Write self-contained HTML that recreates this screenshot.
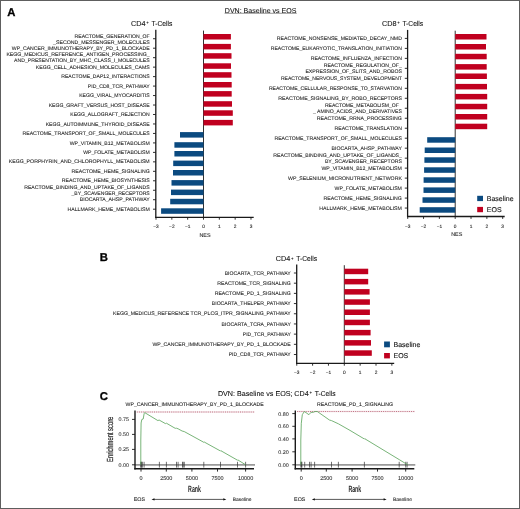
<!DOCTYPE html>
<html><head><meta charset="utf-8"><style>
html,body{margin:0;padding:0;background:#fff;}
body{width:520px;height:509px;overflow:hidden;}
svg{display:block;font-family:"Liberation Sans", sans-serif;will-change:transform;text-rendering:geometricPrecision;}
</style></head><body>
<svg width="520" height="509" viewBox="0 0 520 509">
<rect x="0" y="0" width="520" height="509" fill="#fff"/>
<text x="7.30" y="15.80" font-size="11.3" text-anchor="start" fill="#000" font-weight="bold" stroke="#000" stroke-width="0.3" >A</text>
<text x="224.80" y="12.70" font-size="7.05" text-anchor="start" fill="#111" font-weight="normal" stroke="#111" stroke-width="0.08" >DVN: Baseline vs EOS</text>
<line x1="224.60" y1="13.30" x2="296.80" y2="13.30" stroke="#444" stroke-width="0.55" />
<text x="131.10" y="26.20" font-size="7.25" fill="#111" stroke="#111" stroke-width="0.08">CD4</text>
<text x="147.60" y="24.35" font-size="4.4" font-weight="bold" text-anchor="middle" fill="#111">+</text>
<text x="151.50" y="26.20" font-size="7.25" fill="#111" stroke="#111" stroke-width="0.08" textLength="20.8" lengthAdjust="spacingAndGlyphs">T-Cells</text>
<text x="382.00" y="26.20" font-size="7.25" fill="#111" stroke="#111" stroke-width="0.08">CD8</text>
<text x="398.50" y="24.35" font-size="4.4" font-weight="bold" text-anchor="middle" fill="#111">+</text>
<text x="402.40" y="26.20" font-size="7.25" fill="#111" stroke="#111" stroke-width="0.08" textLength="20.8" lengthAdjust="spacingAndGlyphs">T-Cells</text>
<line x1="155.80" y1="29.80" x2="155.80" y2="217.90" stroke="#1a1a1a" stroke-width="1.3" />
<line x1="155.20" y1="217.30" x2="253.70" y2="217.30" stroke="#1a1a1a" stroke-width="1.3" />
<line x1="203.50" y1="30.60" x2="203.50" y2="217.30" stroke="#1a1a1a" stroke-width="0.9" />
<line x1="153.00" y1="38.73" x2="155.80" y2="38.73" stroke="#1a1a1a" stroke-width="0.9" />
<line x1="153.00" y1="48.20" x2="155.80" y2="48.20" stroke="#1a1a1a" stroke-width="0.9" />
<line x1="153.00" y1="57.67" x2="155.80" y2="57.67" stroke="#1a1a1a" stroke-width="0.9" />
<line x1="153.00" y1="67.14" x2="155.80" y2="67.14" stroke="#1a1a1a" stroke-width="0.9" />
<line x1="153.00" y1="76.61" x2="155.80" y2="76.61" stroke="#1a1a1a" stroke-width="0.9" />
<line x1="153.00" y1="86.08" x2="155.80" y2="86.08" stroke="#1a1a1a" stroke-width="0.9" />
<line x1="153.00" y1="95.55" x2="155.80" y2="95.55" stroke="#1a1a1a" stroke-width="0.9" />
<line x1="153.00" y1="105.02" x2="155.80" y2="105.02" stroke="#1a1a1a" stroke-width="0.9" />
<line x1="153.00" y1="114.49" x2="155.80" y2="114.49" stroke="#1a1a1a" stroke-width="0.9" />
<line x1="153.00" y1="123.96" x2="155.80" y2="123.96" stroke="#1a1a1a" stroke-width="0.9" />
<line x1="153.00" y1="133.44" x2="155.80" y2="133.44" stroke="#1a1a1a" stroke-width="0.9" />
<line x1="153.00" y1="142.91" x2="155.80" y2="142.91" stroke="#1a1a1a" stroke-width="0.9" />
<line x1="153.00" y1="152.38" x2="155.80" y2="152.38" stroke="#1a1a1a" stroke-width="0.9" />
<line x1="153.00" y1="161.85" x2="155.80" y2="161.85" stroke="#1a1a1a" stroke-width="0.9" />
<line x1="153.00" y1="171.32" x2="155.80" y2="171.32" stroke="#1a1a1a" stroke-width="0.9" />
<line x1="153.00" y1="180.79" x2="155.80" y2="180.79" stroke="#1a1a1a" stroke-width="0.9" />
<line x1="153.00" y1="190.26" x2="155.80" y2="190.26" stroke="#1a1a1a" stroke-width="0.9" />
<line x1="153.00" y1="199.73" x2="155.80" y2="199.73" stroke="#1a1a1a" stroke-width="0.9" />
<line x1="153.00" y1="209.20" x2="155.80" y2="209.20" stroke="#1a1a1a" stroke-width="0.9" />
<line x1="156.01" y1="217.30" x2="156.01" y2="219.70" stroke="#1a1a1a" stroke-width="0.9" />
<text x="156.01" y="228.10" font-size="4.8" text-anchor="middle" fill="#1e1e1e" font-weight="normal" stroke="#1e1e1e" stroke-width="0.08" >−3</text>
<line x1="171.84" y1="217.30" x2="171.84" y2="219.70" stroke="#1a1a1a" stroke-width="0.9" />
<text x="171.84" y="228.10" font-size="4.8" text-anchor="middle" fill="#1e1e1e" font-weight="normal" stroke="#1e1e1e" stroke-width="0.08" >−2</text>
<line x1="187.67" y1="217.30" x2="187.67" y2="219.70" stroke="#1a1a1a" stroke-width="0.9" />
<text x="187.67" y="228.10" font-size="4.8" text-anchor="middle" fill="#1e1e1e" font-weight="normal" stroke="#1e1e1e" stroke-width="0.08" >−1</text>
<line x1="203.50" y1="217.30" x2="203.50" y2="219.70" stroke="#1a1a1a" stroke-width="0.9" />
<text x="203.50" y="228.10" font-size="4.8" text-anchor="middle" fill="#1e1e1e" font-weight="normal" stroke="#1e1e1e" stroke-width="0.08" >0</text>
<line x1="219.33" y1="217.30" x2="219.33" y2="219.70" stroke="#1a1a1a" stroke-width="0.9" />
<text x="219.33" y="228.10" font-size="4.8" text-anchor="middle" fill="#1e1e1e" font-weight="normal" stroke="#1e1e1e" stroke-width="0.08" >1</text>
<line x1="235.16" y1="217.30" x2="235.16" y2="219.70" stroke="#1a1a1a" stroke-width="0.9" />
<text x="235.16" y="228.10" font-size="4.8" text-anchor="middle" fill="#1e1e1e" font-weight="normal" stroke="#1e1e1e" stroke-width="0.08" >2</text>
<line x1="250.99" y1="217.30" x2="250.99" y2="219.70" stroke="#1a1a1a" stroke-width="0.9" />
<text x="250.99" y="228.10" font-size="4.8" text-anchor="middle" fill="#1e1e1e" font-weight="normal" stroke="#1e1e1e" stroke-width="0.08" >3</text>
<text x="205.00" y="236.80" font-size="5.4" text-anchor="middle" fill="#1e1e1e" font-weight="normal" stroke="#1e1e1e" stroke-width="0.08" >NES</text>
<text x="149.70" y="37.53" font-size="5.17" text-anchor="end" fill="#1e1e1e" font-weight="normal" stroke="#1e1e1e" stroke-width="0.08" textLength="75.10" lengthAdjust="spacingAndGlyphs">REACTOME_GENERATION_OF</text>
<text x="149.70" y="43.53" font-size="5.17" text-anchor="end" fill="#1e1e1e" font-weight="normal" stroke="#1e1e1e" stroke-width="0.08" textLength="96.70" lengthAdjust="spacingAndGlyphs">_SECOND_MESSENGER_MOLECULES</text>
<text x="149.70" y="49.80" font-size="5.17" text-anchor="end" fill="#1e1e1e" font-weight="normal" stroke="#1e1e1e" stroke-width="0.08" textLength="137.90" lengthAdjust="spacingAndGlyphs">WP_CANCER_IMMUNOTHERAPY_BY_PD_1_BLOCKADE</text>
<text x="149.70" y="56.47" font-size="5.17" text-anchor="end" fill="#1e1e1e" font-weight="normal" stroke="#1e1e1e" stroke-width="0.08" textLength="143.30" lengthAdjust="spacingAndGlyphs">KEGG_MEDICUS_REFERENCE_ANTIGEN_PROCESSING_</text>
<text x="149.70" y="62.47" font-size="5.17" text-anchor="end" fill="#1e1e1e" font-weight="normal" stroke="#1e1e1e" stroke-width="0.08" textLength="135.60" lengthAdjust="spacingAndGlyphs">AND_PRESENTATION_BY_MHC_CLASS_I_MOLECULES</text>
<text x="149.70" y="68.74" font-size="5.17" text-anchor="end" fill="#1e1e1e" font-weight="normal" stroke="#1e1e1e" stroke-width="0.08" textLength="114.00" lengthAdjust="spacingAndGlyphs">KEGG_CELL_ADHESION_MOLECULES_CAMS</text>
<text x="149.70" y="78.21" font-size="5.17" text-anchor="end" fill="#1e1e1e" font-weight="normal" stroke="#1e1e1e" stroke-width="0.08" textLength="88.40" lengthAdjust="spacingAndGlyphs">REACTOME_DAP12_INTERACTIONS</text>
<text x="149.70" y="87.68" font-size="5.17" text-anchor="end" fill="#1e1e1e" font-weight="normal" stroke="#1e1e1e" stroke-width="0.08" textLength="61.90" lengthAdjust="spacingAndGlyphs">PID_CD8_TCR_PATHWAY</text>
<text x="149.70" y="97.15" font-size="5.17" text-anchor="end" fill="#1e1e1e" font-weight="normal" stroke="#1e1e1e" stroke-width="0.08" textLength="70.50" lengthAdjust="spacingAndGlyphs">KEGG_VIRAL_MYOCARDITIS</text>
<text x="149.70" y="106.62" font-size="5.17" text-anchor="end" fill="#1e1e1e" font-weight="normal" stroke="#1e1e1e" stroke-width="0.08" textLength="101.00" lengthAdjust="spacingAndGlyphs">KEGG_GRAFT_VERSUS_HOST_DISEASE</text>
<text x="149.70" y="116.09" font-size="5.17" text-anchor="end" fill="#1e1e1e" font-weight="normal" stroke="#1e1e1e" stroke-width="0.08" textLength="79.40" lengthAdjust="spacingAndGlyphs">KEGG_ALLOGRAFT_REJECTION</text>
<text x="149.70" y="125.56" font-size="5.17" text-anchor="end" fill="#1e1e1e" font-weight="normal" stroke="#1e1e1e" stroke-width="0.08" textLength="104.00" lengthAdjust="spacingAndGlyphs">KEGG_AUTOIMMUNE_THYROID_DISEASE</text>
<text x="149.70" y="135.03" font-size="5.17" text-anchor="end" fill="#1e1e1e" font-weight="normal" stroke="#1e1e1e" stroke-width="0.08" textLength="127.10" lengthAdjust="spacingAndGlyphs">REACTOME_TRANSPORT_OF_SMALL_MOLECULES</text>
<text x="149.70" y="144.51" font-size="5.17" text-anchor="end" fill="#1e1e1e" font-weight="normal" stroke="#1e1e1e" stroke-width="0.08" textLength="80.00" lengthAdjust="spacingAndGlyphs">WP_VITAMIN_B12_METABOLISM</text>
<text x="149.70" y="153.98" font-size="5.17" text-anchor="end" fill="#1e1e1e" font-weight="normal" stroke="#1e1e1e" stroke-width="0.08" textLength="66.50" lengthAdjust="spacingAndGlyphs">WP_FOLATE_METABOLISM</text>
<text x="149.70" y="163.45" font-size="5.17" text-anchor="end" fill="#1e1e1e" font-weight="normal" stroke="#1e1e1e" stroke-width="0.08" textLength="141.00" lengthAdjust="spacingAndGlyphs">KEGG_PORPHYRIN_AND_CHLOROPHYLL_METABOLISM</text>
<text x="149.70" y="172.92" font-size="5.17" text-anchor="end" fill="#1e1e1e" font-weight="normal" stroke="#1e1e1e" stroke-width="0.08" textLength="78.10" lengthAdjust="spacingAndGlyphs">REACTOME_HEME_SIGNALING</text>
<text x="149.70" y="182.39" font-size="5.17" text-anchor="end" fill="#1e1e1e" font-weight="normal" stroke="#1e1e1e" stroke-width="0.08" textLength="87.90" lengthAdjust="spacingAndGlyphs">REACTOME_HEME_BIOSYNTHESIS</text>
<text x="149.70" y="189.06" font-size="5.17" text-anchor="end" fill="#1e1e1e" font-weight="normal" stroke="#1e1e1e" stroke-width="0.08" textLength="125.50" lengthAdjust="spacingAndGlyphs">REACTOME_BINDING_AND_UPTAKE_OF_LIGANDS</text>
<text x="149.70" y="195.06" font-size="5.17" text-anchor="end" fill="#1e1e1e" font-weight="normal" stroke="#1e1e1e" stroke-width="0.08" textLength="78.20" lengthAdjust="spacingAndGlyphs">_BY_SCAVENGER_RECEPTORS</text>
<text x="149.70" y="201.33" font-size="5.17" text-anchor="end" fill="#1e1e1e" font-weight="normal" stroke="#1e1e1e" stroke-width="0.08" textLength="69.90" lengthAdjust="spacingAndGlyphs">BIOCARTA_AHSP_PATHWAY</text>
<text x="149.70" y="210.80" font-size="5.17" text-anchor="end" fill="#1e1e1e" font-weight="normal" stroke="#1e1e1e" stroke-width="0.08" textLength="82.20" lengthAdjust="spacingAndGlyphs">HALLMARK_HEME_METABOLISM</text>
<rect x="203.50" y="34.00" width="27.40" height="5.50" fill="#c0001f"/>
<rect x="203.50" y="43.90" width="27.40" height="5.50" fill="#c0001f"/>
<rect x="203.50" y="53.20" width="28.00" height="5.50" fill="#c0001f"/>
<rect x="203.50" y="63.30" width="27.50" height="5.50" fill="#c0001f"/>
<rect x="203.50" y="72.20" width="28.00" height="5.50" fill="#c0001f"/>
<rect x="203.50" y="82.00" width="28.20" height="5.50" fill="#c0001f"/>
<rect x="203.50" y="91.10" width="28.20" height="5.50" fill="#c0001f"/>
<rect x="203.50" y="101.20" width="28.50" height="5.50" fill="#c0001f"/>
<rect x="203.50" y="110.30" width="29.30" height="5.50" fill="#c0001f"/>
<rect x="203.50" y="119.90" width="29.30" height="5.50" fill="#c0001f"/>
<rect x="180.00" y="132.10" width="23.50" height="5.50" fill="#0b4a80"/>
<rect x="174.40" y="142.20" width="29.10" height="5.50" fill="#0b4a80"/>
<rect x="174.40" y="151.00" width="29.10" height="5.50" fill="#0b4a80"/>
<rect x="173.20" y="160.60" width="30.30" height="5.50" fill="#0b4a80"/>
<rect x="173.00" y="170.00" width="30.50" height="5.50" fill="#0b4a80"/>
<rect x="171.50" y="180.10" width="32.00" height="5.50" fill="#0b4a80"/>
<rect x="171.00" y="189.60" width="32.50" height="5.50" fill="#0b4a80"/>
<rect x="170.20" y="198.80" width="33.30" height="5.50" fill="#0b4a80"/>
<rect x="161.10" y="208.30" width="42.40" height="5.50" fill="#0b4a80"/>
<line x1="407.60" y1="29.90" x2="407.60" y2="217.10" stroke="#1a1a1a" stroke-width="1.3" />
<line x1="407.00" y1="216.50" x2="504.70" y2="216.50" stroke="#1a1a1a" stroke-width="1.3" />
<line x1="455.20" y1="30.70" x2="455.20" y2="216.50" stroke="#1a1a1a" stroke-width="0.9" />
<line x1="404.80" y1="38.40" x2="407.60" y2="38.40" stroke="#1a1a1a" stroke-width="0.9" />
<line x1="404.80" y1="48.38" x2="407.60" y2="48.38" stroke="#1a1a1a" stroke-width="0.9" />
<line x1="404.80" y1="58.36" x2="407.60" y2="58.36" stroke="#1a1a1a" stroke-width="0.9" />
<line x1="404.80" y1="68.34" x2="407.60" y2="68.34" stroke="#1a1a1a" stroke-width="0.9" />
<line x1="404.80" y1="78.32" x2="407.60" y2="78.32" stroke="#1a1a1a" stroke-width="0.9" />
<line x1="404.80" y1="88.30" x2="407.60" y2="88.30" stroke="#1a1a1a" stroke-width="0.9" />
<line x1="404.80" y1="98.28" x2="407.60" y2="98.28" stroke="#1a1a1a" stroke-width="0.9" />
<line x1="404.80" y1="108.26" x2="407.60" y2="108.26" stroke="#1a1a1a" stroke-width="0.9" />
<line x1="404.80" y1="118.24" x2="407.60" y2="118.24" stroke="#1a1a1a" stroke-width="0.9" />
<line x1="404.80" y1="128.22" x2="407.60" y2="128.22" stroke="#1a1a1a" stroke-width="0.9" />
<line x1="404.80" y1="138.20" x2="407.60" y2="138.20" stroke="#1a1a1a" stroke-width="0.9" />
<line x1="404.80" y1="148.18" x2="407.60" y2="148.18" stroke="#1a1a1a" stroke-width="0.9" />
<line x1="404.80" y1="158.16" x2="407.60" y2="158.16" stroke="#1a1a1a" stroke-width="0.9" />
<line x1="404.80" y1="168.14" x2="407.60" y2="168.14" stroke="#1a1a1a" stroke-width="0.9" />
<line x1="404.80" y1="178.12" x2="407.60" y2="178.12" stroke="#1a1a1a" stroke-width="0.9" />
<line x1="404.80" y1="188.10" x2="407.60" y2="188.10" stroke="#1a1a1a" stroke-width="0.9" />
<line x1="404.80" y1="198.08" x2="407.60" y2="198.08" stroke="#1a1a1a" stroke-width="0.9" />
<line x1="404.80" y1="208.06" x2="407.60" y2="208.06" stroke="#1a1a1a" stroke-width="0.9" />
<line x1="407.71" y1="216.50" x2="407.71" y2="218.90" stroke="#1a1a1a" stroke-width="0.9" />
<text x="407.71" y="227.70" font-size="4.8" text-anchor="middle" fill="#1e1e1e" font-weight="normal" stroke="#1e1e1e" stroke-width="0.08" >−3</text>
<line x1="423.54" y1="216.50" x2="423.54" y2="218.90" stroke="#1a1a1a" stroke-width="0.9" />
<text x="423.54" y="227.70" font-size="4.8" text-anchor="middle" fill="#1e1e1e" font-weight="normal" stroke="#1e1e1e" stroke-width="0.08" >−2</text>
<line x1="439.37" y1="216.50" x2="439.37" y2="218.90" stroke="#1a1a1a" stroke-width="0.9" />
<text x="439.37" y="227.70" font-size="4.8" text-anchor="middle" fill="#1e1e1e" font-weight="normal" stroke="#1e1e1e" stroke-width="0.08" >−1</text>
<line x1="455.20" y1="216.50" x2="455.20" y2="218.90" stroke="#1a1a1a" stroke-width="0.9" />
<text x="455.20" y="227.70" font-size="4.8" text-anchor="middle" fill="#1e1e1e" font-weight="normal" stroke="#1e1e1e" stroke-width="0.08" >0</text>
<line x1="471.03" y1="216.50" x2="471.03" y2="218.90" stroke="#1a1a1a" stroke-width="0.9" />
<text x="471.03" y="227.70" font-size="4.8" text-anchor="middle" fill="#1e1e1e" font-weight="normal" stroke="#1e1e1e" stroke-width="0.08" >1</text>
<line x1="486.86" y1="216.50" x2="486.86" y2="218.90" stroke="#1a1a1a" stroke-width="0.9" />
<text x="486.86" y="227.70" font-size="4.8" text-anchor="middle" fill="#1e1e1e" font-weight="normal" stroke="#1e1e1e" stroke-width="0.08" >2</text>
<line x1="502.69" y1="216.50" x2="502.69" y2="218.90" stroke="#1a1a1a" stroke-width="0.9" />
<text x="502.69" y="227.70" font-size="4.8" text-anchor="middle" fill="#1e1e1e" font-weight="normal" stroke="#1e1e1e" stroke-width="0.08" >3</text>
<text x="456.70" y="235.80" font-size="5.4" text-anchor="middle" fill="#1e1e1e" font-weight="normal" stroke="#1e1e1e" stroke-width="0.08" >NES</text>
<text x="401.90" y="40.00" font-size="5.17" text-anchor="end" fill="#1e1e1e" font-weight="normal" stroke="#1e1e1e" stroke-width="0.08" textLength="125.10" lengthAdjust="spacingAndGlyphs">REACTOME_NONSENSE_MEDIATED_DECAY_NMD</text>
<text x="401.90" y="49.98" font-size="5.17" text-anchor="end" fill="#1e1e1e" font-weight="normal" stroke="#1e1e1e" stroke-width="0.08" textLength="131.10" lengthAdjust="spacingAndGlyphs">REACTOME_EUKARYOTIC_TRANSLATION_INITIATION</text>
<text x="401.90" y="59.96" font-size="5.17" text-anchor="end" fill="#1e1e1e" font-weight="normal" stroke="#1e1e1e" stroke-width="0.08" textLength="91.20" lengthAdjust="spacingAndGlyphs">REACTOME_INFLUENZA_INFECTION</text>
<text x="401.90" y="67.14" font-size="5.17" text-anchor="end" fill="#1e1e1e" font-weight="normal" stroke="#1e1e1e" stroke-width="0.08" textLength="78.20" lengthAdjust="spacingAndGlyphs">REACTOME_REGULATION_OF_</text>
<text x="401.90" y="73.14" font-size="5.17" text-anchor="end" fill="#1e1e1e" font-weight="normal" stroke="#1e1e1e" stroke-width="0.08" textLength="96.50" lengthAdjust="spacingAndGlyphs">EXPRESSION_OF_SLITS_AND_ROBOS</text>
<text x="401.90" y="79.92" font-size="5.17" text-anchor="end" fill="#1e1e1e" font-weight="normal" stroke="#1e1e1e" stroke-width="0.08" textLength="121.00" lengthAdjust="spacingAndGlyphs">REACTOME_NERVOUS_SYSTEM_DEVELOPMENT</text>
<text x="401.90" y="89.90" font-size="5.17" text-anchor="end" fill="#1e1e1e" font-weight="normal" stroke="#1e1e1e" stroke-width="0.08" textLength="133.00" lengthAdjust="spacingAndGlyphs">REACTOME_CELLULAR_RESPONSE_TO_STARVATION</text>
<text x="401.90" y="99.88" font-size="5.17" text-anchor="end" fill="#1e1e1e" font-weight="normal" stroke="#1e1e1e" stroke-width="0.08" textLength="123.60" lengthAdjust="spacingAndGlyphs">REACTOME_SIGNALING_BY_ROBO_RECEPTORS</text>
<text x="398.90" y="107.06" font-size="5.17" text-anchor="end" fill="#1e1e1e" font-weight="normal" stroke="#1e1e1e" stroke-width="0.08" textLength="74.00" lengthAdjust="spacingAndGlyphs">REACTOME_METABOLISM_OF</text>
<text x="401.90" y="113.06" font-size="5.17" text-anchor="end" fill="#1e1e1e" font-weight="normal" stroke="#1e1e1e" stroke-width="0.08" textLength="88.90" lengthAdjust="spacingAndGlyphs">_ AMINO_ACIDS_AND_DERIVATIVES</text>
<text x="401.90" y="119.84" font-size="5.17" text-anchor="end" fill="#1e1e1e" font-weight="normal" stroke="#1e1e1e" stroke-width="0.08" textLength="85.10" lengthAdjust="spacingAndGlyphs">REACTOME_RRNA_PROCESSING</text>
<text x="401.90" y="129.82" font-size="5.17" text-anchor="end" fill="#1e1e1e" font-weight="normal" stroke="#1e1e1e" stroke-width="0.08" textLength="67.40" lengthAdjust="spacingAndGlyphs">REACTOME_TRANSLATION</text>
<text x="401.90" y="139.80" font-size="5.17" text-anchor="end" fill="#1e1e1e" font-weight="normal" stroke="#1e1e1e" stroke-width="0.08" textLength="127.40" lengthAdjust="spacingAndGlyphs">REACTOME_TRANSPORT_OF_SMALL_MOLECULES</text>
<text x="401.90" y="149.78" font-size="5.17" text-anchor="end" fill="#1e1e1e" font-weight="normal" stroke="#1e1e1e" stroke-width="0.08" textLength="70.30" lengthAdjust="spacingAndGlyphs">BIOCARTA_AHSP_PATHWAY</text>
<text x="401.90" y="156.96" font-size="5.17" text-anchor="end" fill="#1e1e1e" font-weight="normal" stroke="#1e1e1e" stroke-width="0.08" textLength="128.60" lengthAdjust="spacingAndGlyphs">REACTOME_BINDING_AND_UPTAKE_OF_LIGANDS_</text>
<text x="401.90" y="162.96" font-size="5.17" text-anchor="end" fill="#1e1e1e" font-weight="normal" stroke="#1e1e1e" stroke-width="0.08" textLength="77.00" lengthAdjust="spacingAndGlyphs">BY_SCAVENGER_RECEPTORS</text>
<text x="401.90" y="169.74" font-size="5.17" text-anchor="end" fill="#1e1e1e" font-weight="normal" stroke="#1e1e1e" stroke-width="0.08" textLength="80.50" lengthAdjust="spacingAndGlyphs">WP_VITAMIN_B12_METABOLISM</text>
<text x="401.90" y="179.72" font-size="5.17" text-anchor="end" fill="#1e1e1e" font-weight="normal" stroke="#1e1e1e" stroke-width="0.08" textLength="113.90" lengthAdjust="spacingAndGlyphs">WP_SELENIUM_MICRONUTRIENT_NETWORK</text>
<text x="401.90" y="189.70" font-size="5.17" text-anchor="end" fill="#1e1e1e" font-weight="normal" stroke="#1e1e1e" stroke-width="0.08" textLength="67.40" lengthAdjust="spacingAndGlyphs">WP_FOLATE_METABOLISM</text>
<text x="401.90" y="199.68" font-size="5.17" text-anchor="end" fill="#1e1e1e" font-weight="normal" stroke="#1e1e1e" stroke-width="0.08" textLength="78.40" lengthAdjust="spacingAndGlyphs">REACTOME_HEME_SIGNALING</text>
<text x="401.90" y="209.66" font-size="5.17" text-anchor="end" fill="#1e1e1e" font-weight="normal" stroke="#1e1e1e" stroke-width="0.08" textLength="82.60" lengthAdjust="spacingAndGlyphs">HALLMARK_HEME_METABOLISM</text>
<rect x="455.20" y="34.00" width="31.30" height="5.50" fill="#c0001f"/>
<rect x="455.20" y="44.00" width="30.80" height="5.50" fill="#c0001f"/>
<rect x="455.20" y="53.80" width="31.50" height="5.50" fill="#c0001f"/>
<rect x="455.20" y="64.10" width="31.50" height="5.50" fill="#c0001f"/>
<rect x="455.20" y="73.50" width="31.70" height="5.50" fill="#c0001f"/>
<rect x="455.20" y="83.90" width="31.80" height="5.50" fill="#c0001f"/>
<rect x="455.20" y="93.90" width="32.00" height="5.50" fill="#c0001f"/>
<rect x="455.20" y="103.80" width="32.00" height="5.50" fill="#c0001f"/>
<rect x="455.20" y="114.00" width="32.00" height="5.50" fill="#c0001f"/>
<rect x="455.20" y="123.70" width="32.00" height="5.50" fill="#c0001f"/>
<rect x="427.20" y="137.20" width="28.00" height="5.50" fill="#0b4a80"/>
<rect x="424.70" y="147.50" width="30.50" height="5.50" fill="#0b4a80"/>
<rect x="424.40" y="157.30" width="30.80" height="5.50" fill="#0b4a80"/>
<rect x="424.10" y="167.30" width="31.10" height="5.50" fill="#0b4a80"/>
<rect x="423.60" y="177.30" width="31.60" height="5.50" fill="#0b4a80"/>
<rect x="423.50" y="187.40" width="31.70" height="5.50" fill="#0b4a80"/>
<rect x="422.50" y="197.30" width="32.70" height="5.50" fill="#0b4a80"/>
<rect x="419.70" y="207.20" width="35.50" height="5.50" fill="#0b4a80"/>
<rect x="477.20" y="195.80" width="5.80" height="5.30" fill="#0b4a80"/>
<rect x="477.20" y="206.90" width="5.80" height="5.30" fill="#c0001f"/>
<text x="486.80" y="200.70" font-size="7.0" text-anchor="start" fill="#222" font-weight="normal" stroke="#222" stroke-width="0.14" >Baseline</text>
<text x="486.80" y="211.70" font-size="7.0" text-anchor="start" fill="#222" font-weight="normal" stroke="#222" stroke-width="0.14" >EOS</text>
<text x="99.70" y="261.10" font-size="11.3" text-anchor="start" fill="#000" font-weight="bold" stroke="#000" stroke-width="0.3" >B</text>
<text x="275.80" y="261.40" font-size="7.25" fill="#111" stroke="#111" stroke-width="0.08">CD4</text>
<text x="292.30" y="259.55" font-size="4.4" font-weight="bold" text-anchor="middle" fill="#111">+</text>
<text x="296.20" y="261.40" font-size="7.25" fill="#111" stroke="#111" stroke-width="0.08" textLength="20.8" lengthAdjust="spacingAndGlyphs">T-Cells</text>
<line x1="296.70" y1="264.40" x2="296.70" y2="363.90" stroke="#1a1a1a" stroke-width="1.3" />
<line x1="296.10" y1="363.30" x2="394.20" y2="363.30" stroke="#1a1a1a" stroke-width="1.3" />
<line x1="344.30" y1="265.20" x2="344.30" y2="363.30" stroke="#1a1a1a" stroke-width="0.9" />
<line x1="293.90" y1="273.00" x2="296.70" y2="273.00" stroke="#1a1a1a" stroke-width="0.9" />
<line x1="293.90" y1="283.19" x2="296.70" y2="283.19" stroke="#1a1a1a" stroke-width="0.9" />
<line x1="293.90" y1="293.38" x2="296.70" y2="293.38" stroke="#1a1a1a" stroke-width="0.9" />
<line x1="293.90" y1="303.57" x2="296.70" y2="303.57" stroke="#1a1a1a" stroke-width="0.9" />
<line x1="293.90" y1="313.76" x2="296.70" y2="313.76" stroke="#1a1a1a" stroke-width="0.9" />
<line x1="293.90" y1="323.95" x2="296.70" y2="323.95" stroke="#1a1a1a" stroke-width="0.9" />
<line x1="293.90" y1="334.14" x2="296.70" y2="334.14" stroke="#1a1a1a" stroke-width="0.9" />
<line x1="293.90" y1="344.33" x2="296.70" y2="344.33" stroke="#1a1a1a" stroke-width="0.9" />
<line x1="293.90" y1="354.52" x2="296.70" y2="354.52" stroke="#1a1a1a" stroke-width="0.9" />
<line x1="296.75" y1="363.30" x2="296.75" y2="365.70" stroke="#1a1a1a" stroke-width="0.9" />
<text x="296.75" y="373.70" font-size="4.8" text-anchor="middle" fill="#1e1e1e" font-weight="normal" stroke="#1e1e1e" stroke-width="0.08" >−3</text>
<line x1="312.60" y1="363.30" x2="312.60" y2="365.70" stroke="#1a1a1a" stroke-width="0.9" />
<text x="312.60" y="373.70" font-size="4.8" text-anchor="middle" fill="#1e1e1e" font-weight="normal" stroke="#1e1e1e" stroke-width="0.08" >−2</text>
<line x1="328.45" y1="363.30" x2="328.45" y2="365.70" stroke="#1a1a1a" stroke-width="0.9" />
<text x="328.45" y="373.70" font-size="4.8" text-anchor="middle" fill="#1e1e1e" font-weight="normal" stroke="#1e1e1e" stroke-width="0.08" >−1</text>
<line x1="344.30" y1="363.30" x2="344.30" y2="365.70" stroke="#1a1a1a" stroke-width="0.9" />
<text x="344.30" y="373.70" font-size="4.8" text-anchor="middle" fill="#1e1e1e" font-weight="normal" stroke="#1e1e1e" stroke-width="0.08" >0</text>
<line x1="360.15" y1="363.30" x2="360.15" y2="365.70" stroke="#1a1a1a" stroke-width="0.9" />
<text x="360.15" y="373.70" font-size="4.8" text-anchor="middle" fill="#1e1e1e" font-weight="normal" stroke="#1e1e1e" stroke-width="0.08" >1</text>
<line x1="376.00" y1="363.30" x2="376.00" y2="365.70" stroke="#1a1a1a" stroke-width="0.9" />
<text x="376.00" y="373.70" font-size="4.8" text-anchor="middle" fill="#1e1e1e" font-weight="normal" stroke="#1e1e1e" stroke-width="0.08" >2</text>
<line x1="391.85" y1="363.30" x2="391.85" y2="365.70" stroke="#1a1a1a" stroke-width="0.9" />
<text x="391.85" y="373.70" font-size="4.8" text-anchor="middle" fill="#1e1e1e" font-weight="normal" stroke="#1e1e1e" stroke-width="0.08" >3</text>
<text x="290.80" y="274.60" font-size="5.17" text-anchor="end" fill="#1e1e1e" font-weight="normal" stroke="#1e1e1e" stroke-width="0.08" textLength="66.10" lengthAdjust="spacingAndGlyphs">BIOCARTA_TCR_PATHWAY</text>
<text x="290.80" y="284.79" font-size="5.17" text-anchor="end" fill="#1e1e1e" font-weight="normal" stroke="#1e1e1e" stroke-width="0.08" textLength="73.50" lengthAdjust="spacingAndGlyphs">REACTOME_TCR_SIGNALING</text>
<text x="290.80" y="294.98" font-size="5.17" text-anchor="end" fill="#1e1e1e" font-weight="normal" stroke="#1e1e1e" stroke-width="0.08" textLength="76.10" lengthAdjust="spacingAndGlyphs">REACTOME_PD_1_SIGNALING</text>
<text x="290.80" y="305.17" font-size="5.17" text-anchor="end" fill="#1e1e1e" font-weight="normal" stroke="#1e1e1e" stroke-width="0.08" textLength="79.00" lengthAdjust="spacingAndGlyphs">BIOCARTA_THELPER_PATHWAY</text>
<text x="290.80" y="315.36" font-size="5.17" text-anchor="end" fill="#1e1e1e" font-weight="normal" stroke="#1e1e1e" stroke-width="0.08" textLength="177.80" lengthAdjust="spacingAndGlyphs">KEGG_MEDICUS_REFERENCE TCR_PLCG_ITPR_SIGNALING_PATHWAY</text>
<text x="290.80" y="325.55" font-size="5.17" text-anchor="end" fill="#1e1e1e" font-weight="normal" stroke="#1e1e1e" stroke-width="0.08" textLength="69.20" lengthAdjust="spacingAndGlyphs">BIOCARTA_TCRA_PATHWAY</text>
<text x="290.80" y="335.74" font-size="5.17" text-anchor="end" fill="#1e1e1e" font-weight="normal" stroke="#1e1e1e" stroke-width="0.08" textLength="48.00" lengthAdjust="spacingAndGlyphs">PID_TCR_PATHWAY</text>
<text x="290.80" y="345.93" font-size="5.17" text-anchor="end" fill="#1e1e1e" font-weight="normal" stroke="#1e1e1e" stroke-width="0.08" textLength="138.40" lengthAdjust="spacingAndGlyphs">WP_CANCER_IMMUNOTHERAPY_BY_PD_1_BLOCKADE</text>
<text x="290.80" y="356.12" font-size="5.17" text-anchor="end" fill="#1e1e1e" font-weight="normal" stroke="#1e1e1e" stroke-width="0.08" textLength="62.10" lengthAdjust="spacingAndGlyphs">PID_CD8_TCR_PATHWAY</text>
<rect x="344.30" y="268.70" width="23.90" height="5.50" fill="#c0001f"/>
<rect x="344.30" y="278.90" width="23.90" height="5.50" fill="#c0001f"/>
<rect x="344.30" y="289.10" width="25.30" height="5.50" fill="#c0001f"/>
<rect x="344.30" y="299.30" width="25.60" height="5.50" fill="#c0001f"/>
<rect x="344.30" y="309.50" width="25.60" height="5.50" fill="#c0001f"/>
<rect x="344.30" y="319.70" width="25.60" height="5.50" fill="#c0001f"/>
<rect x="344.30" y="329.90" width="26.30" height="5.50" fill="#c0001f"/>
<rect x="344.30" y="340.10" width="26.70" height="5.50" fill="#c0001f"/>
<rect x="344.30" y="350.30" width="27.50" height="5.50" fill="#c0001f"/>
<rect x="384.10" y="341.50" width="5.80" height="5.80" fill="#0b4a80"/>
<rect x="384.10" y="353.00" width="5.80" height="5.40" fill="#c0001f"/>
<text x="393.50" y="347.10" font-size="7.0" text-anchor="start" fill="#222" font-weight="normal" stroke="#222" stroke-width="0.14" >Baseline</text>
<text x="393.50" y="358.00" font-size="7.0" text-anchor="start" fill="#222" font-weight="normal" stroke="#222" stroke-width="0.14" >EOS</text>
<text x="99.70" y="399.80" font-size="11.3" text-anchor="start" fill="#000" font-weight="bold" stroke="#000" stroke-width="0.3" >C</text>
<text x="217.90" y="396.20" font-size="7.15" text-anchor="start" fill="#111" font-weight="normal" stroke="#111" stroke-width="0.08" textLength="74.6" lengthAdjust="spacingAndGlyphs">DVN: Baseline vs EOS;</text>
<text x="294.30" y="396.20" font-size="7.2" fill="#111" stroke="#111" stroke-width="0.08">CD4</text>
<text x="310.80" y="394.35" font-size="4.4" font-weight="bold" text-anchor="middle" fill="#111">+</text>
<text x="314.70" y="396.20" font-size="7.2" fill="#111" stroke="#111" stroke-width="0.08" textLength="20.8" lengthAdjust="spacingAndGlyphs">T-Cells</text>
<text x="125.60" y="405.70" font-size="5.17" text-anchor="start" fill="#222" font-weight="normal" stroke="#222" stroke-width="0.08" >WP_CANCER_IMMUNOTHERAPY_BY_PD_1_BLOCKADE</text>
<line x1="136.80" y1="412.00" x2="254.70" y2="412.00" stroke="#f3e3e7" stroke-width="1.4" />
<line x1="136.80" y1="412.00" x2="254.70" y2="412.00" stroke="#c27585" stroke-width="1.2" stroke-dasharray="1.0 1.15"/>
<line x1="135.00" y1="464.80" x2="255.00" y2="464.80" stroke="#9a9a9a" stroke-width="1.8" />
<line x1="140.70" y1="461.80" x2="140.70" y2="467.60" stroke="#333" stroke-width="0.7" />
<line x1="141.20" y1="461.80" x2="141.20" y2="467.60" stroke="#333" stroke-width="0.7" />
<line x1="141.70" y1="461.80" x2="141.70" y2="467.60" stroke="#333" stroke-width="0.7" />
<line x1="142.30" y1="461.80" x2="142.30" y2="467.60" stroke="#333" stroke-width="0.7" />
<line x1="144.10" y1="461.80" x2="144.10" y2="467.60" stroke="#333" stroke-width="0.7" />
<line x1="159.40" y1="461.80" x2="159.40" y2="467.60" stroke="#333" stroke-width="0.7" />
<line x1="166.40" y1="461.80" x2="166.40" y2="467.60" stroke="#333" stroke-width="0.7" />
<line x1="176.50" y1="461.80" x2="176.50" y2="467.60" stroke="#333" stroke-width="0.7" />
<line x1="178.10" y1="461.80" x2="178.10" y2="467.60" stroke="#333" stroke-width="0.7" />
<line x1="182.50" y1="461.80" x2="182.50" y2="467.60" stroke="#333" stroke-width="0.7" />
<line x1="183.20" y1="461.80" x2="183.20" y2="467.60" stroke="#333" stroke-width="0.7" />
<line x1="184.30" y1="461.80" x2="184.30" y2="467.60" stroke="#333" stroke-width="0.7" />
<line x1="203.80" y1="461.80" x2="203.80" y2="467.60" stroke="#333" stroke-width="0.7" />
<line x1="220.50" y1="461.80" x2="220.50" y2="467.60" stroke="#333" stroke-width="0.7" />
<line x1="237.50" y1="461.80" x2="237.50" y2="467.60" stroke="#333" stroke-width="0.7" />
<line x1="245.60" y1="461.80" x2="245.60" y2="467.60" stroke="#333" stroke-width="0.7" />
<polyline points="140.80,464.80 140.80,440.00 141.10,423.00 141.80,419.50 143.20,419.00 144.10,413.80 144.70,412.60 157.90,420.60 159.10,420.00 165.40,423.60 166.40,423.20 175.20,428.30 176.50,428.20 178.10,428.80 182.10,431.00 184.30,431.60 203.80,442.30 204.20,442.00 220.50,451.00 220.80,450.70 237.50,460.20 237.80,459.90 245.60,464.80" fill="none" stroke="#60a660" stroke-width="0.85" stroke-linejoin="round"/>
<line x1="135.00" y1="410.40" x2="135.00" y2="469.50" stroke="#1a1a1a" stroke-width="1.4" />
<line x1="134.30" y1="468.80" x2="254.00" y2="468.80" stroke="#1a1a1a" stroke-width="1.4" />
<line x1="132.00" y1="419.40" x2="135.00" y2="419.40" stroke="#1a1a1a" stroke-width="0.9" />
<text x="128.90" y="421.30" font-size="5.35" text-anchor="end" fill="#333" font-weight="normal" stroke="#333" stroke-width="0.08" >0.75</text>
<line x1="132.00" y1="434.40" x2="135.00" y2="434.40" stroke="#1a1a1a" stroke-width="0.9" />
<text x="128.90" y="436.30" font-size="5.35" text-anchor="end" fill="#333" font-weight="normal" stroke="#333" stroke-width="0.08" >0.50</text>
<line x1="132.00" y1="449.40" x2="135.00" y2="449.40" stroke="#1a1a1a" stroke-width="0.9" />
<text x="128.90" y="451.30" font-size="5.35" text-anchor="end" fill="#333" font-weight="normal" stroke="#333" stroke-width="0.08" >0.25</text>
<line x1="132.00" y1="464.80" x2="135.00" y2="464.80" stroke="#1a1a1a" stroke-width="0.9" />
<text x="128.90" y="466.70" font-size="5.35" text-anchor="end" fill="#333" font-weight="normal" stroke="#333" stroke-width="0.08" >0.00</text>
<line x1="141.00" y1="468.80" x2="141.00" y2="471.60" stroke="#1a1a1a" stroke-width="0.9" />
<text x="141.00" y="480.10" font-size="5.5" text-anchor="middle" fill="#333" font-weight="normal" stroke="#333" stroke-width="0.08" >0</text>
<line x1="166.30" y1="468.80" x2="166.30" y2="471.60" stroke="#1a1a1a" stroke-width="0.9" />
<text x="166.30" y="480.10" font-size="5.5" text-anchor="middle" fill="#333" font-weight="normal" stroke="#333" stroke-width="0.08" >2500</text>
<line x1="191.90" y1="468.80" x2="191.90" y2="471.60" stroke="#1a1a1a" stroke-width="0.9" />
<text x="191.90" y="480.10" font-size="5.5" text-anchor="middle" fill="#333" font-weight="normal" stroke="#333" stroke-width="0.08" >5000</text>
<line x1="217.50" y1="468.80" x2="217.50" y2="471.60" stroke="#1a1a1a" stroke-width="0.9" />
<text x="217.50" y="480.10" font-size="5.5" text-anchor="middle" fill="#333" font-weight="normal" stroke="#333" stroke-width="0.08" >7500</text>
<line x1="245.60" y1="468.80" x2="245.60" y2="471.60" stroke="#1a1a1a" stroke-width="0.9" />
<text x="245.60" y="480.10" font-size="5.5" text-anchor="middle" fill="#333" font-weight="normal" stroke="#333" stroke-width="0.08" >10000</text>
<text transform="translate(194.50,492.1) scale(0.57,1)" font-size="9.2" text-anchor="middle" fill="#2a2a2a" font-weight="bold">Rank</text>
<text x="133.80" y="501.30" font-size="5.3" text-anchor="start" fill="#333" font-weight="normal" stroke="#333" stroke-width="0.12" >EOS</text>
<line x1="153.50" y1="499.40" x2="224.30" y2="499.40" stroke="#111" stroke-width="0.7" />
<polygon points="151.50,499.4 154.50,498.3 154.50,500.5" fill="#111"/>
<polygon points="226.30,499.4 223.30,498.3 223.30,500.5" fill="#111"/>
<text x="232.80" y="501.30" font-size="4.9" text-anchor="start" fill="#333" font-weight="normal" stroke="#333" stroke-width="0.12" >Baseline</text>
<text transform="translate(113.3,439.3) rotate(-90) scale(0.66,1)" font-size="8.8" text-anchor="middle" fill="#2a2a2a" stroke="#2a2a2a" stroke-width="0.25">Enrichment score</text>
<text x="317.10" y="405.70" font-size="5.17" text-anchor="start" fill="#222" font-weight="normal" stroke="#222" stroke-width="0.08" >REACTOME_PD_1_SIGNALING</text>
<line x1="297.10" y1="411.50" x2="415.00" y2="411.50" stroke="#f3e3e7" stroke-width="1.4" />
<line x1="297.10" y1="411.50" x2="415.00" y2="411.50" stroke="#c27585" stroke-width="1.2" stroke-dasharray="1.0 1.15"/>
<line x1="295.30" y1="464.80" x2="415.30" y2="464.80" stroke="#9a9a9a" stroke-width="1.8" />
<line x1="300.90" y1="461.80" x2="300.90" y2="467.60" stroke="#333" stroke-width="0.7" />
<line x1="301.40" y1="461.80" x2="301.40" y2="467.60" stroke="#333" stroke-width="0.7" />
<line x1="301.90" y1="461.80" x2="301.90" y2="467.60" stroke="#333" stroke-width="0.7" />
<line x1="304.70" y1="461.80" x2="304.70" y2="467.60" stroke="#333" stroke-width="0.7" />
<line x1="309.50" y1="461.80" x2="309.50" y2="467.60" stroke="#333" stroke-width="0.7" />
<line x1="311.10" y1="461.80" x2="311.10" y2="467.60" stroke="#333" stroke-width="0.7" />
<line x1="314.60" y1="461.80" x2="314.60" y2="467.60" stroke="#333" stroke-width="0.7" />
<line x1="331.50" y1="461.80" x2="331.50" y2="467.60" stroke="#333" stroke-width="0.7" />
<line x1="338.40" y1="461.80" x2="338.40" y2="467.60" stroke="#333" stroke-width="0.7" />
<line x1="364.40" y1="461.80" x2="364.40" y2="467.60" stroke="#333" stroke-width="0.7" />
<line x1="399.20" y1="461.80" x2="399.20" y2="467.60" stroke="#333" stroke-width="0.7" />
<line x1="405.70" y1="461.80" x2="405.70" y2="467.60" stroke="#333" stroke-width="0.7" />
<line x1="407.10" y1="461.80" x2="407.10" y2="467.60" stroke="#333" stroke-width="0.7" />
<polyline points="300.80,464.80 300.80,440.00 301.30,423.30 302.30,414.70 304.30,411.50 306.10,412.70 308.90,414.70 311.00,412.30 313.30,412.30 315.00,411.50 317.30,411.50 329.40,420.00 331.50,420.60 338.40,423.80 350.00,430.40 364.40,439.00 364.70,438.70 399.20,459.60 405.70,463.60 407.80,464.80" fill="none" stroke="#60a660" stroke-width="0.85" stroke-linejoin="round"/>
<line x1="295.30" y1="410.40" x2="295.30" y2="469.50" stroke="#1a1a1a" stroke-width="1.4" />
<line x1="294.60" y1="468.80" x2="414.30" y2="468.80" stroke="#1a1a1a" stroke-width="1.4" />
<line x1="292.30" y1="413.60" x2="295.30" y2="413.60" stroke="#1a1a1a" stroke-width="0.9" />
<text x="288.70" y="415.50" font-size="5.35" text-anchor="end" fill="#333" font-weight="normal" stroke="#333" stroke-width="0.08" >0.80</text>
<line x1="292.30" y1="426.30" x2="295.30" y2="426.30" stroke="#1a1a1a" stroke-width="0.9" />
<text x="288.70" y="428.20" font-size="5.35" text-anchor="end" fill="#333" font-weight="normal" stroke="#333" stroke-width="0.08" >0.60</text>
<line x1="292.30" y1="438.90" x2="295.30" y2="438.90" stroke="#1a1a1a" stroke-width="0.9" />
<text x="288.70" y="440.80" font-size="5.35" text-anchor="end" fill="#333" font-weight="normal" stroke="#333" stroke-width="0.08" >0.40</text>
<line x1="292.30" y1="451.80" x2="295.30" y2="451.80" stroke="#1a1a1a" stroke-width="0.9" />
<text x="288.70" y="453.70" font-size="5.35" text-anchor="end" fill="#333" font-weight="normal" stroke="#333" stroke-width="0.08" >0.20</text>
<line x1="292.30" y1="464.80" x2="295.30" y2="464.80" stroke="#1a1a1a" stroke-width="0.9" />
<text x="288.70" y="466.70" font-size="5.35" text-anchor="end" fill="#333" font-weight="normal" stroke="#333" stroke-width="0.08" >0.00</text>
<line x1="301.20" y1="468.80" x2="301.20" y2="471.60" stroke="#1a1a1a" stroke-width="0.9" />
<text x="301.20" y="480.10" font-size="5.5" text-anchor="middle" fill="#333" font-weight="normal" stroke="#333" stroke-width="0.08" >0</text>
<line x1="326.30" y1="468.80" x2="326.30" y2="471.60" stroke="#1a1a1a" stroke-width="0.9" />
<text x="326.30" y="480.10" font-size="5.5" text-anchor="middle" fill="#333" font-weight="normal" stroke="#333" stroke-width="0.08" >2500</text>
<line x1="352.10" y1="468.80" x2="352.10" y2="471.60" stroke="#1a1a1a" stroke-width="0.9" />
<text x="352.10" y="480.10" font-size="5.5" text-anchor="middle" fill="#333" font-weight="normal" stroke="#333" stroke-width="0.08" >5000</text>
<line x1="377.50" y1="468.80" x2="377.50" y2="471.60" stroke="#1a1a1a" stroke-width="0.9" />
<text x="377.50" y="480.10" font-size="5.5" text-anchor="middle" fill="#333" font-weight="normal" stroke="#333" stroke-width="0.08" >7500</text>
<line x1="405.70" y1="468.80" x2="405.70" y2="471.60" stroke="#1a1a1a" stroke-width="0.9" />
<text x="405.70" y="480.10" font-size="5.5" text-anchor="middle" fill="#333" font-weight="normal" stroke="#333" stroke-width="0.08" >10000</text>
<text transform="translate(354.80,492.1) scale(0.57,1)" font-size="9.2" text-anchor="middle" fill="#2a2a2a" font-weight="bold">Rank</text>
<text x="294.10" y="501.30" font-size="5.3" text-anchor="start" fill="#333" font-weight="normal" stroke="#333" stroke-width="0.12" >EOS</text>
<line x1="313.80" y1="499.40" x2="384.60" y2="499.40" stroke="#111" stroke-width="0.7" />
<polygon points="311.80,499.4 314.80,498.3 314.80,500.5" fill="#111"/>
<polygon points="386.60,499.4 383.60,498.3 383.60,500.5" fill="#111"/>
<text x="393.10" y="501.30" font-size="4.9" text-anchor="start" fill="#333" font-weight="normal" stroke="#333" stroke-width="0.12" >Baseline</text>
<rect x="0.5" y="0.5" width="519" height="508" fill="none" stroke="#5e5e5e" stroke-width="1"/>
</svg>
</body></html>
